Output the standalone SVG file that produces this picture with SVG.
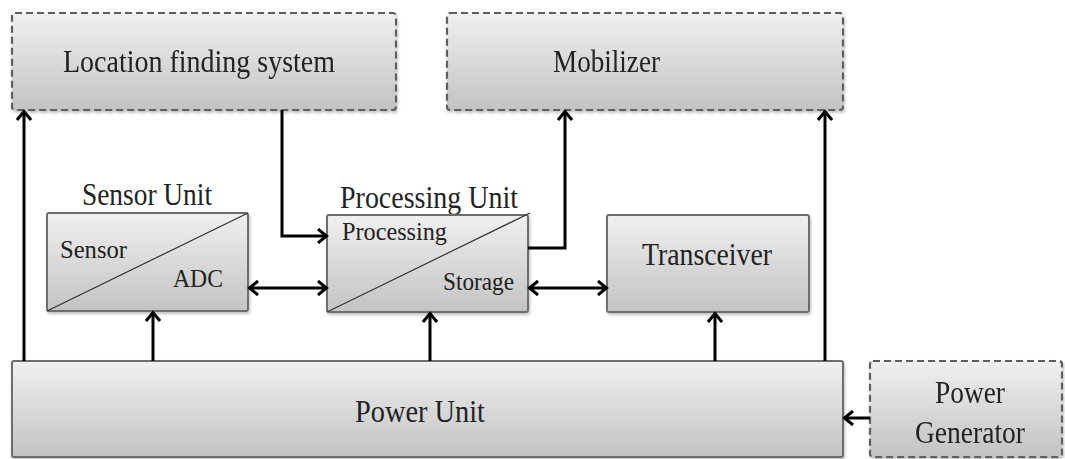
<svg xmlns="http://www.w3.org/2000/svg" width="1065" height="459" viewBox="0 0 1065 459">
<style>
.box{fill:url(#g);stroke:#6e6e6e;stroke-width:2}
.dash{fill:url(#g);stroke:#5e5e5e;stroke-width:2.2;stroke-dasharray:7 4}
.t{font-family:"Liberation Serif","Times New Roman",serif;fill:#222}
.c{fill:none;stroke:#000;stroke-width:3}
.diag{stroke:#333;stroke-width:1.2}
</style>
<defs>
<linearGradient id="g" x1="0" y1="0" x2="0" y2="1">
<stop offset="0" stop-color="#f0f0f0"/>
<stop offset="1" stop-color="#c3c3c3"/>
</linearGradient>
<filter id="sh" x="-5%" y="-5%" width="110%" height="115%">
<feDropShadow dx="1" dy="2" stdDeviation="1.5" flood-color="#000" flood-opacity="0.25"/>
</filter>
<marker id="a" markerUnits="userSpaceOnUse" markerWidth="14" markerHeight="16" refX="11" refY="8" orient="auto-start-reverse">
<path d="M2,1 L10.5,8 L2,15" fill="none" stroke="#000" stroke-width="3"/>
</marker>
</defs>
<g id="location" filter="url(#sh)">
<rect class="dash" x="12" y="13" width="384" height="97" rx="3"/>
<text class="t" x="63" y="72" font-size="32" textLength="272" lengthAdjust="spacingAndGlyphs">Location finding system</text>
</g>
<g id="mobilizer" filter="url(#sh)">
<rect class="dash" x="447" y="13" width="396" height="97" rx="3"/>
<text class="t" x="553" y="72" font-size="31" textLength="107" lengthAdjust="spacingAndGlyphs">Mobilizer</text>
</g>
<g id="sensor-unit">
<text class="t" x="82" y="205" font-size="31" textLength="130" lengthAdjust="spacingAndGlyphs">Sensor Unit</text>
<rect class="box" x="47" y="213" width="201" height="98" rx="2" filter="url(#sh)"/>
<line class="diag" x1="47" y1="311" x2="248" y2="213"/>
<text class="t" x="60" y="258" font-size="26" textLength="67" lengthAdjust="spacingAndGlyphs">Sensor</text>
<text class="t" x="173" y="287" font-size="26" textLength="50" lengthAdjust="spacingAndGlyphs">ADC</text>
</g>
<g id="processing-unit">
<text class="t" x="340" y="208" font-size="31" textLength="178" lengthAdjust="spacingAndGlyphs">Processing Unit</text>
<rect class="box" x="327" y="215" width="201" height="97" rx="2" filter="url(#sh)"/>
<line class="diag" x1="327" y1="312" x2="530" y2="213"/>
<text class="t" x="342" y="240" font-size="26" textLength="105" lengthAdjust="spacingAndGlyphs">Processing</text>
<text class="t" x="443" y="290" font-size="26" textLength="71" lengthAdjust="spacingAndGlyphs">Storage</text>
</g>
<g id="transceiver">
<rect class="box" x="607" y="215" width="202" height="97" rx="2" filter="url(#sh)"/>
<text class="t" x="642" y="265" font-size="31" textLength="130" lengthAdjust="spacingAndGlyphs">Transceiver</text>
</g>
<g id="power-unit">
<rect class="box" x="12" y="361" width="831" height="96" rx="2" filter="url(#sh)"/>
<text class="t" x="355" y="422" font-size="31" textLength="130" lengthAdjust="spacingAndGlyphs">Power Unit</text>
</g>
<g id="power-generator" filter="url(#sh)">
<rect class="dash" x="870" y="361" width="192" height="96" rx="3"/>
<text class="t" x="935" y="403" font-size="31" textLength="70" lengthAdjust="spacingAndGlyphs">Power</text>
<text class="t" x="915" y="443" font-size="31" textLength="110" lengthAdjust="spacingAndGlyphs">Generator</text>
</g>
<g id="connectors">
<path class="c" d="M24,361 V111" marker-end="url(#a)"/>
<path class="c" d="M153,361 V312" marker-end="url(#a)"/>
<path class="c" d="M430,361 V313" marker-end="url(#a)"/>
<path class="c" d="M715,361 V313" marker-end="url(#a)"/>
<path class="c" d="M825,361 V111" marker-end="url(#a)"/>
<path class="c" d="M282,110 V236 H327" marker-end="url(#a)"/>
<path class="c" d="M528,248 H565 V111" marker-end="url(#a)"/>
<path class="c" d="M249,288 H327" marker-start="url(#a)" marker-end="url(#a)"/>
<path class="c" d="M529,288 H607" marker-start="url(#a)" marker-end="url(#a)"/>
<path class="c" d="M870,418 H844" marker-end="url(#a)"/>
</g>
</svg>
